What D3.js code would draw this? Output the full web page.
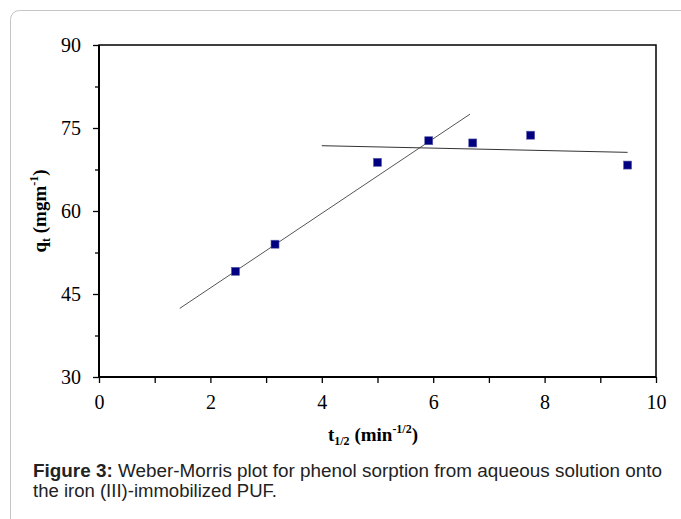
<!DOCTYPE html>
<html>
<head>
<meta charset="utf-8">
<script src="https://cdn.jsdelivr.net/npm/d3@7"></script>
<style>
  body { margin: 0; background: #fff; }
  svg { display: block; }
</style>
</head>
<body>
<div id="vis"></div>
<script>
// sqrt(t) values and uptake
var tHalf = [2.45, 3.16, 5.0, 5.92, 6.71, 7.75, 9.49];
var qt = [49.1, 54.0, 68.8, 72.7, 72.3, 73.7, 68.3];

// two fitted linear segments, as endpoints [x, y]
var fitLine1 = [[1.45, 42.4], [6.66, 77.5]];
var fitLine2 = [[4.0, 71.8], [9.49, 70.6]];

var xTicks = [0, 2, 4, 6, 8, 10];
var xMinor = [1, 3, 5, 7, 9];
var yTicks = [30, 45, 60, 75, 90];
var yMinor = [37.5, 52.5, 67.5, 82.5];

var W = 681, H = 519;
var margin = {top: 45, right: 25, bottom: 142, left: 99};
var width = W - margin.left - margin.right,
    height = H - margin.top - margin.bottom;

var svg = d3.select("#vis").append("svg")
    .attr("width", W)
    .attr("height", H);

// outer frame of the figure box (runs off the right/bottom)
svg.append("rect")
    .attr("x", 10.5).attr("y", 10.5)
    .attr("width", W + 20).attr("height", H + 20)
    .attr("rx", 9)
    .attr("fill", "none")
    .attr("stroke", "#c4c4c4")
    .attr("stroke-width", 1);

var x = d3.scaleLinear().domain([0, 10]).range([0, width]);
var y = d3.scaleLinear().domain([30, 90]).range([height, 0]);

var g = svg.append("g")
    .attr("transform", "translate(" + margin.left + "," + margin.top + ")");

// plot box
g.append("rect")
    .attr("width", width).attr("height", height)
    .attr("fill", "none")
    .attr("stroke", "#000")
    .attr("stroke-width", 1.5);

var tickFont = "'Liberation Serif', 'Times New Roman', serif";

// x axis
var xAxis = g.append("g")
    .attr("transform", "translate(0," + height + ")")
    .call(d3.axisBottom(x).tickValues(xTicks).tickSize(6).tickPadding(12).tickFormat(d3.format("d")));
g.append("g")
    .attr("transform", "translate(0," + height + ")")
    .call(d3.axisBottom(x).tickValues(xMinor).tickSize(6).tickFormat(""))
    .select(".domain").remove();

// y axis
var yAxis = g.append("g")
    .call(d3.axisLeft(y).tickValues(yTicks).tickSize(6).tickPadding(12).tickFormat(d3.format("d")));
g.append("g")
    .call(d3.axisLeft(y).tickValues(yMinor).tickSize(4).tickFormat(""))
    .select(".domain").remove();

g.selectAll(".domain").attr("stroke-width", 2).attr("stroke", "#000");
g.selectAll(".tick line").attr("stroke", "#000").attr("stroke-width", 1.3);
g.selectAll(".tick text")
    .attr("font-family", tickFont)
    .attr("font-size", 20)
    .attr("fill", "#000");
xAxis.selectAll(".tick text").attr("dy", "0.71em");
xAxis.select(".domain").attr("d", "M0,0H" + width);
yAxis.select(".domain").attr("d", "M0," + height + "V0");

// fitted lines
var line = d3.line().x(function(d) { return x(d[0]); }).y(function(d) { return y(d[1]); });
g.append("path").datum(fitLine1)
    .attr("d", line).attr("fill", "none")
    .attr("stroke", "#555").attr("stroke-width", 1);
g.append("path").datum(fitLine2)
    .attr("d", line).attr("fill", "none")
    .attr("stroke", "#333").attr("stroke-width", 1);

// data points
var s = 8;
g.selectAll(".pt")
    .data(tHalf)
    .enter().append("rect")
    .attr("class", "pt")
    .attr("x", function(d) { return x(d) - s / 2; })
    .attr("y", function(d, i) { return y(qt[i]) - s / 2; })
    .attr("width", s).attr("height", s)
    .attr("fill", "#000080")
    .attr("stroke", "#5a5aa8")
    .attr("stroke-width", 0.6);

// axis titles
var xt = svg.append("text")
    .attr("x", 373)
    .attr("y", 441)
    .attr("text-anchor", "middle")
    .attr("font-family", tickFont)
    .attr("font-weight", "bold")
    .attr("font-size", 19);
xt.append("tspan").text("t");
xt.append("tspan").attr("font-size", 12).attr("dy", 4).text("1/2");
xt.append("tspan").attr("dy", -4).text(" (min");
xt.append("tspan").attr("font-size", 12).attr("dy", -8).text("-1/2");
xt.append("tspan").attr("dy", 8).text(")");

var yt = svg.append("text")
    .attr("transform", "translate(46,211) rotate(-90)")
    .attr("text-anchor", "middle")
    .attr("font-family", tickFont)
    .attr("font-weight", "bold")
    .attr("font-size", 19);
yt.append("tspan").text("q");
yt.append("tspan").attr("font-size", 12).attr("dy", 4).text("t");
yt.append("tspan").attr("dy", -4).text(" (mgm");
yt.append("tspan").attr("font-size", 12).attr("dy", -8).text("-1");
yt.append("tspan").attr("dy", 8).text(")");

// caption
var capFont = "'Liberation Sans', Arial, sans-serif";
var c1 = svg.append("text")
    .attr("x", 33).attr("y", 477)
    .attr("font-family", capFont).attr("font-size", 17.5).attr("fill", "#222")
    .attr("textLength", 629).attr("lengthAdjust", "spacingAndGlyphs");
c1.append("tspan").attr("font-weight", "bold").text("Figure 3:");
c1.append("tspan").text(" Weber-Morris plot for phenol sorption from aqueous solution onto");
svg.append("text")
    .attr("x", 33).attr("y", 497)
    .attr("font-family", capFont).attr("font-size", 17.5).attr("fill", "#222")
    .attr("textLength", 244).attr("lengthAdjust", "spacingAndGlyphs")
    .text("the iron (III)-immobilized PUF.");
</script>
</body>
</html>
